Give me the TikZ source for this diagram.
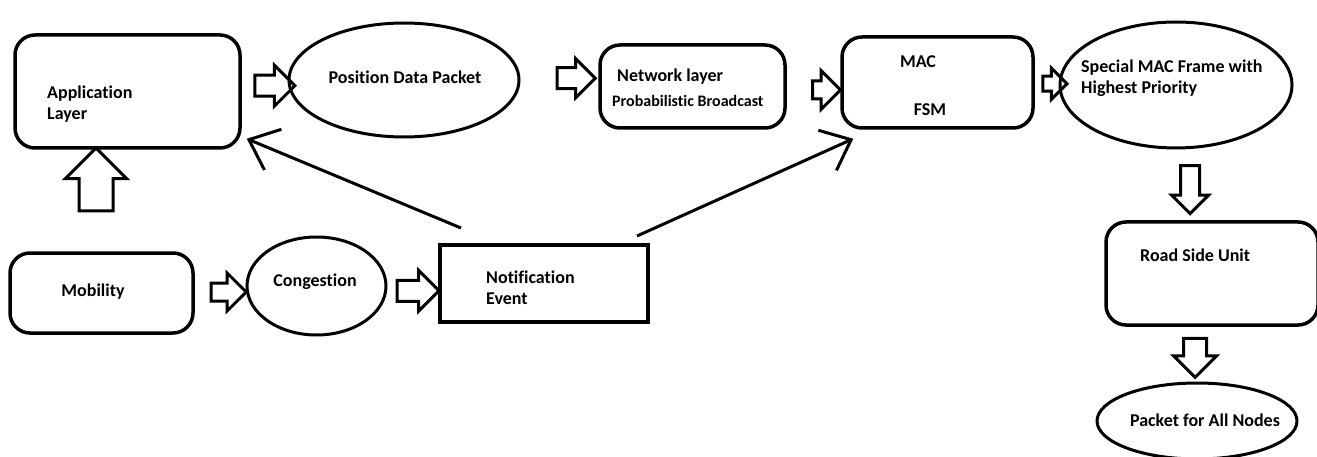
\documentclass[tikz,border=0pt]{standalone}
\usepackage{fontspec}
\setmainfont{Carlito}[Ligatures=NoCommon]
\usetikzlibrary{calc,arrows.meta,shapes.geometric,shapes.arrows,positioning}
\tikzset{
  layer/.style={draw, line width=3.5pt, rounded corners=20pt, inner sep=0pt},
  packet/.style={draw, ellipse, line width=3pt, inner sep=0pt},
  event/.style={draw, line width=4pt, inner sep=0pt},
  flow/.style={single arrow, draw, line width=3pt, inner xsep=0pt, minimum width=0pt, single arrow head indent=0pt},
  link/.style={line width=3pt, -{Straight Barb[length=26pt, width=44pt, line width=3pt]}},
  note/.style={font=\bfseries\fontsize{18}{21}\selectfont, inner sep=0pt, align=left}
}

\begin{document}
\begin{tikzpicture}[x=1pt, y=-1pt]
  \useasboundingbox (0,0) rectangle (1317,457);
  % blocks
  \node[layer, minimum width=225pt, minimum height=113pt] (app) at (127.5,91.5) {};
  \node[packet, minimum width=230pt, minimum height=114pt] (pos) at (404,80) {};
  \node[layer, minimum width=185pt, minimum height=83pt] (net) at (692.5,86.5) {};
  \node[layer, minimum width=191pt, minimum height=91pt] (mac) at (937.5,82.5) {};
  \node[packet, minimum width=232pt, minimum height=126pt] (spec) at (1176,85) {};
  \node[layer, minimum width=212pt, minimum height=103pt] (rsu) at (1212,273.5) {};
  \node[packet, minimum width=200pt, minimum height=76pt] (pkt) at (1197,421) {};
  \node[layer, minimum width=183pt, minimum height=80pt] (mob) at (101.5,293) {};
  \node[packet, minimum width=139pt, minimum height=98pt] (cong) at (316.5,286) {};
  \node[event, minimum width=208pt, minimum height=77pt] (notif) at (544,283.5) {};
  % texts
  \node[note, anchor=west] (appT) at (47,104) {Application\\Layer};
  \node[note] (posT) at (405,77) {Position Data Packet};
  \node[note, anchor=west] (netT) at (617,77) {Network layer};
  \node[note, anchor=west, font=\bfseries\fontsize{16}{18}\selectfont] (netS) at (612,101) {Probabilistic Broadcast};
  \node[note] (macT) at (918,62) {MAC};
  \node[note] (fsmT) at (930,110) {FSM};
  \node[note, anchor=west] (specT) at (1081,78) {Special MAC Frame with\\Highest Priority};
  \node[note, anchor=west] (rsuT) at (1140,255) {Road Side Unit};
  \node[note] (pktT) at (1205,420) {Packet for All Nodes};
  \node[note] (mobT) at (93,292) {Mobility};
  \node[note] (congT) at (315,282) {Congestion};
  \node[note, anchor=west] (notifT) at (486,288) {Notification\\Event};
  % block arrows
  \node[flow, minimum height=40pt, inner ysep=9pt, single arrow head extend=10pt] (f1) at ($(app.east)!0.5!(pos.west)+(5,0)$) {};
  \node[flow, minimum height=38pt, inner ysep=9pt, single arrow head extend=9pt] (f2) at ($(pos.east)!0.5!(net.west)+(11.5,-5)$) {};
  \node[flow, minimum height=28pt, inner ysep=7.5pt, single arrow head extend=10.5pt] (f3) at ($(net.east)!0.5!(mac.west)+(8.5,5.5)$) {};
  \node[flow, minimum height=24pt, inner ysep=6pt, single arrow head extend=8pt] (f4) at ($(mac.east)!0.5!(spec.west)+(4.5,0)$) {};
  \node[flow, rotate=-90, minimum height=48pt, inner ysep=8pt, single arrow head extend=9pt] (f5) at ($(spec.south)!0.5!(rsu.north)+(-4,0)$) {};
  \node[flow, rotate=-90, minimum height=39pt, inner ysep=10pt, single arrow head extend=10pt] (f6) at ($(rsu.south)!0.5!(pkt.north)+(-9.5,-2)$) {};
  \node[flow, rotate=90, minimum height=63pt, inner ysep=15.5pt, single arrow head extend=13.5pt] (f7) at ($(mob.north)!0.5!(app.south)+(-18.5,-12.5)$) {};
  \node[flow, minimum height=35pt, inner ysep=7.5pt, single arrow head extend=10pt] (f8) at ($(mob.east)!0.5!(cong.west)+(4,2.5)$) {};
  \node[flow, minimum height=42pt, inner ysep=9pt, single arrow head extend=10pt] (f9) at ($(cong.east)!0.5!(notif.west)+(0,6)$) {};
  % notification links
  \coordinate (nA) at ($(notif.north west)+(23,-15)$);
  \coordinate (nB) at ($(notif.north east)+(-13,-7)$);
  \draw[link] (nA) -- ($(app.south east)+(5,-11)$);
  \draw[link] (nB) -- ($(mac.south west)+(13,9)$);
\end{tikzpicture}
\end{document}
